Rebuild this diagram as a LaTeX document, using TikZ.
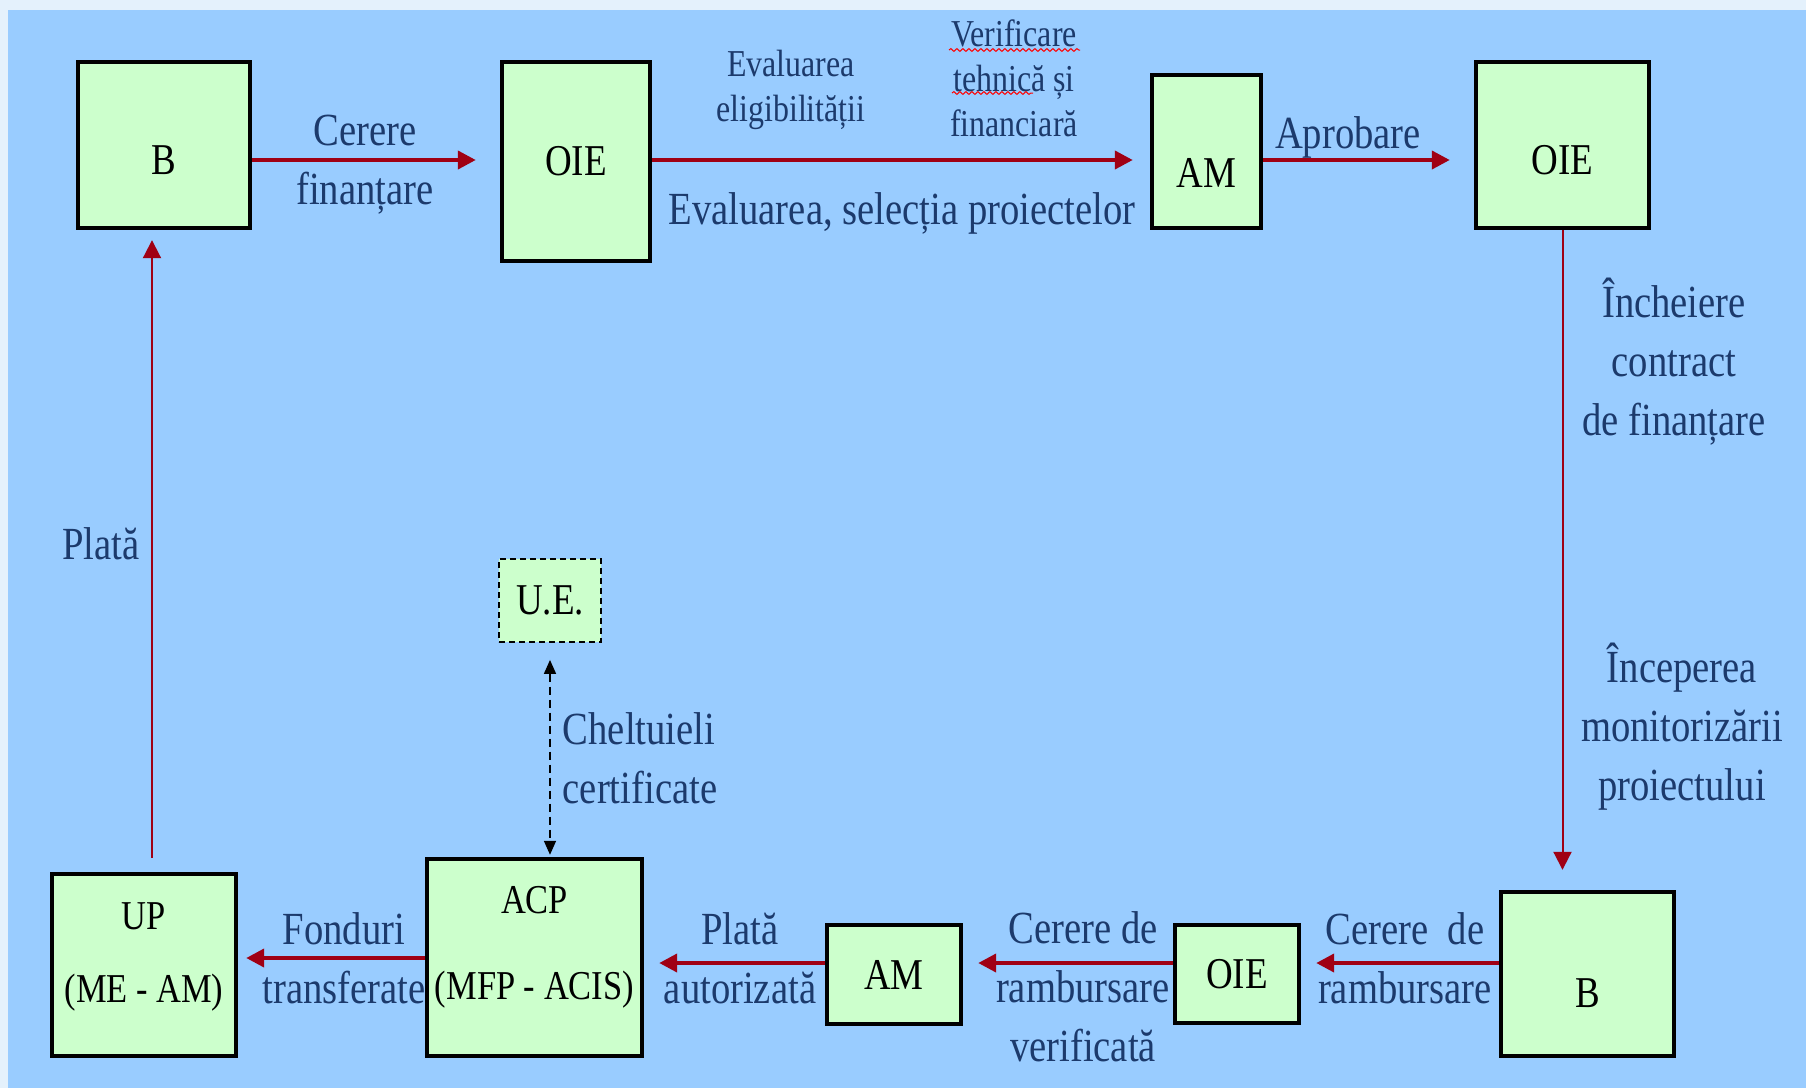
\documentclass[tikz,border=0pt]{standalone}
\usepackage{fontspec}
\setmainfont{Liberation Serif}[FakeStretch=0.84]
\usetikzlibrary{arrows.meta, decorations.pathmorphing}

\definecolor{bgpale}{RGB}{228,241,252}
\definecolor{bgblue}{RGB}{153,204,255}
\definecolor{boxgreen}{RGB}{204,255,204}
\definecolor{flowred}{RGB}{160,0,20}
\definecolor{labelblue}{RGB}{28,58,108}

\begin{document}
\begin{tikzpicture}[x=0.5pt, y=-0.5pt, >={Triangle[length=9pt, width=9pt]},
    box/.style={draw=black, line width=2.2pt, fill=boxgreen, inner sep=2pt,
      font=\fontsize{22}{27}\selectfont},
    boxtxt/.style={align=center, inner sep=0pt, font=\fontsize{20.5}{25}\selectfont},
    lowtxt/.style={text height=#1},
    lbl/.style={text=labelblue, align=center, inner sep=0pt,
      font=\fontsize{23}{29.5}\selectfont},
    smalllbl/.style={lbl, font=\fontsize{19}{22.5}\selectfont},
    flow/.style={->, draw=flowred, line width=2pt},
    thinflow/.style={->, draw=flowred, line width=1pt}]
  % --- Background ---
  \fill[bgpale] (0,0) rectangle (1806,1088);
  \fill[bgblue] (8,10) rectangle (1806,1088);
  \useasboundingbox (0,0) rectangle (1806,1088);

  % --- Top row: request, evaluation, approval ---
  \node[box, minimum width=86pt, minimum height=83pt, lowtxt=29.4pt] (b1) at (164,145) {B};
  \node[box, minimum width=74pt, minimum height=99.5pt] (oie1) at (576,161.5) {OIE};
  \node[box, minimum width=54.5pt, minimum height=76.5pt, lowtxt=35.9pt] (am1) at (1206.5,151.5) {AM};
  \node[box, minimum width=86.5pt, minimum height=83pt, lowtxt=29.4pt] (oie2) at (1562.5,145) {OIE};
  \coordinate (toprow) at (0,160);

  \draw[flow, shorten >=12pt] (b1.east |- toprow) -- (oie1.west |- toprow);
  \draw[flow, shorten >=8.5pt] (oie1.east |- toprow) -- (am1.west |- toprow);
  \draw[flow, shorten >=12pt] (am1.east |- toprow) -- (oie2.west |- toprow);

  \node[lbl] (lcerere) at (365,165) {Cerere\\finanțare};
  \node[smalllbl] (leval) at (791,90) {Evaluarea\\eligibilității};
  \node[smalllbl] (lverif) at (1014,78) {Verificare\\tehnică și\\financiară};
  \node[lbl] (lselect) at (902,213) {Evaluarea, selecția proiectelor};
  \node[lbl] (laprob) at (1348,137) {Aprobare};
  % spell-check marks
  \draw[red, line width=0.5pt, decorate, decoration={snake, amplitude=0.7pt, segment length=3pt}]
    (949,50) -- (1080,50);
  \draw[red, line width=0.5pt, decorate, decoration={snake, amplitude=0.7pt, segment length=3pt}]
    (952,93) -- (1033,93);

  % --- Right side ---
  \node[box, minimum width=86.5pt, minimum height=82pt, lowtxt=33.4pt] (b2) at (1587.5,974) {B};
  \draw[thinflow, shorten >=10pt] (oie2.south) -- (oie2.south |- b2.north);
  \node[lbl] (lcontract) at (1674,362) {Încheiere\\contract\\de finanțare};
  \node[lbl] (lmonit) at (1682,727) {Începerea\\monitorizării\\proiectului};

  % --- Bottom row: reimbursement and payment ---
  \node[box, minimum width=62pt, minimum height=49pt] (oie3) at (1237,974) {OIE};
  \node[box, minimum width=67pt, minimum height=49.5pt] (am2) at (894,974.5) {AM};
  \node[box, minimum width=107.5pt, minimum height=98.5pt,
    label={[boxtxt, yshift=4.9pt]center:ACP\\[18pt](MFP - ACIS)}] (acp) at (534.5,957.5) {};
  \node[box, minimum width=92pt, minimum height=91pt,
    label={[boxtxt, yshift=4.2pt]center:UP\\[11.5pt](ME - AM)}] (up) at (144,965) {};
  \coordinate (botrow) at (0,963);
  \coordinate (fundrow) at (0,958);
  \coordinate (leftcol) at (152,0);

  \draw[flow, shorten >=7.5pt] (b2.west |- botrow) -- (oie3.east |- botrow);
  \draw[flow, shorten >=7.5pt] (oie3.west |- botrow) -- (am2.east |- botrow);
  \draw[flow, shorten >=7.5pt] (am2.west |- botrow) -- (acp.east |- botrow);
  \draw[flow, shorten >=4pt] (acp.west |- fundrow) -- (up.east |- fundrow);
  \draw[thinflow, shorten <=7pt, shorten >=5pt] (up.north -| leftcol) -- (b1.south -| leftcol);

  \node[lbl] (lrambb) at (1405,958) {Cerere~ de\\rambursare};
  \node[lbl] (lrambv) at (1083,987) {Cerere de\\rambursare\\verificată};
  \node[lbl] (lplataut) at (740,958) {Plată\\autorizată};
  \node[lbl] (lfonduri) at (344,958) {Fonduri\\transferate};
  \node[lbl] (lplata) at (101,544) {Plată};

  % --- EU certification ---
  \node[box, line width=0.9pt, dash pattern=on 3pt off 2pt, minimum width=51pt,
    minimum height=41.5pt] (ue) at (550,600.5) {U.E.};
  \draw[line width=0.8pt, dash pattern=on 4pt off 2.5pt,
    {Triangle[length=7pt, width=6pt]}-{Triangle[length=7pt, width=6pt]},
    shorten <=8.5pt, shorten >=1pt] (ue.south) -- (ue.south |- acp.north);
  \node[lbl, align=left] (lchelt) at (640,758) {Cheltuieli\\certificate};
\end{tikzpicture}
\end{document}
